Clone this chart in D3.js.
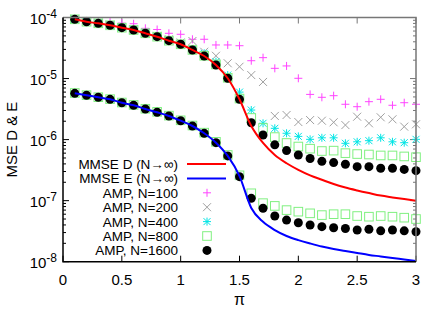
<!DOCTYPE html>
<html>
<head>
<meta charset="utf-8">
<script src="https://cdn.jsdelivr.net/npm/d3@7"></script>
<style>
body { margin: 0; background: #fff; }
text { font-family: "Liberation Sans", Arial, sans-serif; }
</style>
</head>
<body>
<div id="chart"></div>
<script>
// pi values (x) for the AMP points and the curves
var piVals = [0.1, 0.2, 0.3, 0.4, 0.5, 0.6, 0.7, 0.8, 0.9, 1.0,
              1.1, 1.2, 1.3, 1.4, 1.5, 1.6, 1.7, 1.8, 1.9, 2.0,
              2.1, 2.2, 2.3, 2.4, 2.5, 2.6, 2.7, 2.8, 2.9, 3.0];

// MMSE curves (N -> infinity)
var mmseD = [9.34e-5, 8.53e-5, 8.03e-5, 7.45e-5, 6.81e-5, 6.24e-5, 5.51e-5, 4.85e-5, 4.17e-5, 3.64e-5,
             2.94e-5, 2.34e-5, 1.67e-5, 1.01e-5, 4.57e-6, 1.67e-6, 8.8e-7, 5.6e-7, 4.1e-7, 3.2e-7,
             2.6e-7, 2.2e-7, 1.87e-7, 1.64e-7, 1.47e-7, 1.33e-7, 1.21e-7, 1.13e-7, 1.06e-7, 1.0e-7];
var mmseE = [5.73e-6, 5.32e-6, 4.93e-6, 4.57e-6, 4.02e-6, 3.65e-6, 3.17e-6, 2.80e-6, 2.44e-6, 2.04e-6,
             1.67e-6, 1.27e-6, 8.9e-7, 5.4e-7, 2.53e-7, 7.6e-8, 4.5e-8, 3.3e-8, 2.64e-8, 2.26e-8,
             1.99e-8, 1.77e-8, 1.61e-8, 1.5e-8, 1.39e-8, 1.29e-8, 1.22e-8, 1.15e-8, 1.09e-8, 1.03e-8];

// AMP, error on D
var ampD100 = [9.5e-5, 8.8e-5, 8.4e-5, 8.4e-5, 8.1e-5, 7.9e-5, 6.65e-5, 6.36e-5, 5.51e-5, 5.31e-5,
               4.4e-5, 4.4e-5, 3.55e-5, 3.55e-5, 3.45e-5, 1.96e-5, 2.2e-5, 1.47e-5, 1.61e-5, 1.01e-5,
               5.5e-6, 4.93e-6, 5.24e-6, 3.79e-6, 3.46e-6, 4.18e-6, 4.57e-6, 3.65e-6, 4.02e-6, 3.79e-6];
var ampD200 = [9.5e-5, 8.7e-5, 8.2e-5, 7.6e-5, 7.0e-5, 6.4e-5, 5.7e-5, 5.0e-5, 4.4e-5, 3.9e-5,
               4.12e-5, 2.75e-5, 2.36e-5, 1.78e-5, 1.56e-5, 1.14e-5, 8.8e-6, 2.44e-6, 2.53e-6, 1.94e-6,
               2.09e-6, 2.04e-6, 1.92e-6, 1.73e-6, 2.37e-6, 1.85e-6, 2.32e-6, 2.15e-6, 1.63e-6, 1.78e-6];
var ampD400 = [9.4e-5, 8.6e-5, 8.1e-5, 7.5e-5, 6.9e-5, 6.3e-5, 5.6e-5, 4.9e-5, 4.25e-5, 3.7e-5,
               3.0e-5, 2.59e-5, 1.89e-5, 1.14e-5, 6.0e-6, 3.05e-6, 1.85e-6, 1.53e-6, 1.27e-6, 1.13e-6,
               1.01e-6, 1.07e-6, 1.07e-6, 8.7e-7, 9.2e-7, 9.6e-7, 1.07e-6, 9.2e-7, 8.9e-7, 1.01e-6];
var ampD800 = [9.34e-5, 8.53e-5, 8.03e-5, 7.45e-5, 6.81e-5, 6.24e-5, 5.51e-5, 4.85e-5, 4.17e-5, 3.64e-5,
               2.94e-5, 2.36e-5, 1.7e-5, 1.03e-5, 4.7e-6, 2.26e-6, 1.55e-6, 1.10e-6, 8.8e-7, 7.7e-7,
               7.1e-7, 6.5e-7, 6.6e-7, 6.0e-7, 5.8e-7, 5.7e-7, 5.5e-7, 5.5e-7, 5.3e-7, 5.15e-7];
var ampD1600 = [9.34e-5, 8.53e-5, 8.03e-5, 7.45e-5, 6.81e-5, 6.24e-5, 5.51e-5, 4.85e-5, 4.17e-5, 3.64e-5,
                2.94e-5, 2.34e-5, 1.67e-5, 1.01e-5, 4.57e-6, 1.89e-6, 1.19e-6, 8.2e-7, 6.6e-7, 5.6e-7,
                4.9e-7, 4.4e-7, 4.2e-7, 3.95e-7, 3.6e-7, 3.6e-7, 3.4e-7, 3.4e-7, 3.25e-7, 3.1e-7];

// AMP, error on E
var ampE800 = [5.8e-6, 5.35e-6, 4.95e-6, 4.6e-6, 4.05e-6, 3.7e-6, 3.2e-6, 2.85e-6, 2.47e-6, 2.07e-6,
               1.7e-6, 1.3e-6, 9.2e-7, 5.6e-7, 2.6e-7, 1.32e-7, 9.1e-8, 8.2e-8, 7.0e-8, 6.6e-8,
               6.2e-8, 5.8e-8, 6.0e-8, 6.0e-8, 5.6e-8, 5.46e-8, 5.6e-8, 5.46e-8, 5.26e-8, 5.0e-8];
var ampE1600 = [5.73e-6, 5.32e-6, 4.93e-6, 4.57e-6, 4.02e-6, 3.65e-6, 3.17e-6, 2.80e-6, 2.44e-6, 2.04e-6,
                1.67e-6, 1.27e-6, 8.9e-7, 5.4e-7, 2.47e-7, 1.09e-7, 7.5e-8, 5.6e-8, 4.8e-8, 4.35e-8,
                4.0e-8, 3.75e-8, 3.6e-8, 3.5e-8, 3.3e-8, 3.4e-8, 3.2e-8, 3.3e-8, 3.2e-8, 3.1e-8];

var xTicks = [0, 0.5, 1, 1.5, 2, 2.5, 3];
var xTickLabels = ["0", "0.5", "1", "1.5", "2", "2.5", "3"];
var yDecades = [1e-8, 1e-7, 1e-6, 1e-5, 1e-4];
var yDecadeExps = ["-8", "-7", "-6", "-5", "-4"];

var legendLabels = ["MMSE D (N\u2192\u221E)", "MMSE E (N\u2192\u221E)", "AMP, N=100", "AMP, N=200",
                    "AMP, N=400", "AMP, N=800", "AMP, N=1600"];

var width = 443, height = 310;
var margin = { top: 17.5, right: 27, bottom: 48.3, left: 63 };

var svg = d3.select("#chart").append("svg")
  .attr("width", width).attr("height", height);

var x = d3.scaleLinear().domain([0, 3]).range([margin.left, width - margin.right]);
var y = d3.scaleLog().domain([1e-8, 1e-4]).range([height - margin.bottom, margin.top]);

var x0 = x.range()[0], x1 = x.range()[1], yb = y.range()[0], yt = y.range()[1];

// minor ticks on log axis
var minorY = y.ticks().filter(function(d) {
  return yDecades.indexOf(d) < 0;
});

var ticks = svg.append("g").attr("stroke", "#000").attr("stroke-width", 1);
minorY.forEach(function(d) {
  ticks.append("line").attr("x1", x0).attr("x2", x0 + 3).attr("y1", y(d)).attr("y2", y(d));
  ticks.append("line").attr("x1", x1).attr("x2", x1 - 3).attr("y1", y(d)).attr("y2", y(d)).attr("stroke", "#777");
});
yDecades.forEach(function(d) {
  ticks.append("line").attr("x1", x0).attr("x2", x0 + 6).attr("y1", y(d)).attr("y2", y(d));
  ticks.append("line").attr("x1", x1).attr("x2", x1 - 6).attr("y1", y(d)).attr("y2", y(d)).attr("stroke", "#777");
});
xTicks.forEach(function(d) {
  ticks.append("line").attr("x1", x(d)).attr("x2", x(d)).attr("y1", yb).attr("y2", yb - 6);
  ticks.append("line").attr("x1", x(d)).attr("x2", x(d)).attr("y1", yt).attr("y2", yt + 6).attr("stroke", "#777");
});

// x tick labels
svg.append("g").selectAll("text").data(xTicks).enter().append("text")
  .attr("x", function(d) { return x(d); })
  .attr("y", yb + 23.5)
  .attr("text-anchor", "middle")
  .attr("font-size", 15)
  .text(function(d, i) { return xTickLabels[i]; });

// y tick labels 10^k
var yl = svg.append("g").selectAll("text").data(yDecades).enter().append("text")
  .attr("x", 57)
  .attr("y", function(d) { return y(d) + 6.5; })
  .attr("text-anchor", "end")
  .attr("font-size", 15);
yl.append("tspan").text("10");
yl.append("tspan").attr("dy", -6).attr("font-size", 12)
  .text(function(d, i) { return yDecadeExps[i]; });

// axis titles
svg.append("text")
  .attr("transform", "translate(17," + ((yt + yb) / 2) + ") rotate(-90)")
  .attr("text-anchor", "middle")
  .attr("font-size", 15)
  .text("MSE D & E");
svg.append("text")
  .attr("x", (x0 + x1) / 2).attr("y", 305)
  .attr("text-anchor", "middle")
  .attr("font-size", 16)
  .text("\u03C0");

// marker shapes
function plus(g, cx, cy, col) {
  g.append("path").attr("d", "M" + (cx - 4) + "," + cy + "H" + (cx + 4) + "M" + cx + "," + (cy - 4) + "V" + (cy + 4))
    .attr("stroke", col).attr("stroke-width", 1).attr("fill", "none");
}
function cross(g, cx, cy, col) {
  g.append("path").attr("d", "M" + (cx - 4) + "," + (cy - 4) + "L" + (cx + 4) + "," + (cy + 4) +
      "M" + (cx - 4) + "," + (cy + 4) + "L" + (cx + 4) + "," + (cy - 4))
    .attr("stroke", col).attr("stroke-width", 1).attr("fill", "none");
}
function star(g, cx, cy, col) {
  g.append("path").attr("d", "M" + (cx - 4) + "," + cy + "H" + (cx + 4) + "M" + cx + "," + (cy - 4) + "V" + (cy + 4) +
      "M" + (cx - 3.5) + "," + (cy - 3.5) + "L" + (cx + 3.5) + "," + (cy + 3.5) +
      "M" + (cx - 3.5) + "," + (cy + 3.5) + "L" + (cx + 3.5) + "," + (cy - 3.5))
    .attr("stroke", col).attr("stroke-width", 1).attr("fill", "none");
}
function square(g, cx, cy, col) {
  g.append("rect").attr("x", cx - 4.3).attr("y", cy - 4.3).attr("width", 8.6).attr("height", 8.6)
    .attr("stroke", col).attr("stroke-width", 1).attr("fill", "none");
}
function dot(g, cx, cy, col) {
  g.append("circle").attr("cx", cx).attr("cy", cy).attr("r", 4.5).attr("fill", col);
}

var series = [
  { vals: [ampD100], mark: plus, col: "#ff44ff" },
  { vals: [ampD200], mark: cross, col: "#a0a0a0" },
  { vals: [ampD400], mark: star, col: "#00e5e5" },
  { vals: [ampD800, ampE800], mark: square, col: "#80f080" },
  { vals: [ampD1600, ampE1600], mark: dot, col: "#000" }
];

var pts = svg.append("g");
series.forEach(function(s) {
  s.vals.forEach(function(arr) {
    arr.forEach(function(v, i) { s.mark(pts, x(piVals[i]), y(v), s.col); });
  });
});

// MMSE curves
var line = d3.line()
  .x(function(d) { return x(d[0]); })
  .y(function(d) { return y(d[1]); })
  .curve(d3.curveMonotoneX);
svg.append("path").datum(d3.zip(piVals, mmseD)).attr("d", line)
  .attr("fill", "none").attr("stroke", "#ff0000").attr("stroke-width", 2);
svg.append("path").datum(d3.zip(piVals, mmseE)).attr("d", line)
  .attr("fill", "none").attr("stroke", "#0000ff").attr("stroke-width", 2);

// border
svg.append("path").attr("d", "M" + x0 + "," + yt + "H" + x1 + "V" + yb)
  .attr("fill", "none").attr("stroke", "#777").attr("stroke-width", 1.5);
svg.append("path").attr("d", "M" + x0 + "," + yt + "V" + yb + "H" + x1)
  .attr("fill", "none").attr("stroke", "#000").attr("stroke-width", 1.5);

// legend
var leg = svg.append("g");
var legMarks = [null, null, plus, cross, star, square, dot];
var legCols = ["#ff0000", "#0000ff", "#ff44ff", "#a0a0a0", "#00e5e5", "#80f080", "#000"];
legendLabels.forEach(function(lab, i) {
  var ly = 164 + i * 14.4;
  leg.append("text").attr("x", 178).attr("y", ly + 5).attr("text-anchor", "end")
    .attr("font-size", 13.5).text(lab);
  if (legMarks[i]) {
    legMarks[i](leg, 207, ly, legCols[i]);
  } else {
    leg.append("line").attr("x1", 187).attr("x2", 226).attr("y1", ly).attr("y2", ly)
      .attr("stroke", legCols[i]).attr("stroke-width", 2);
  }
});
</script>
</body>
</html>
